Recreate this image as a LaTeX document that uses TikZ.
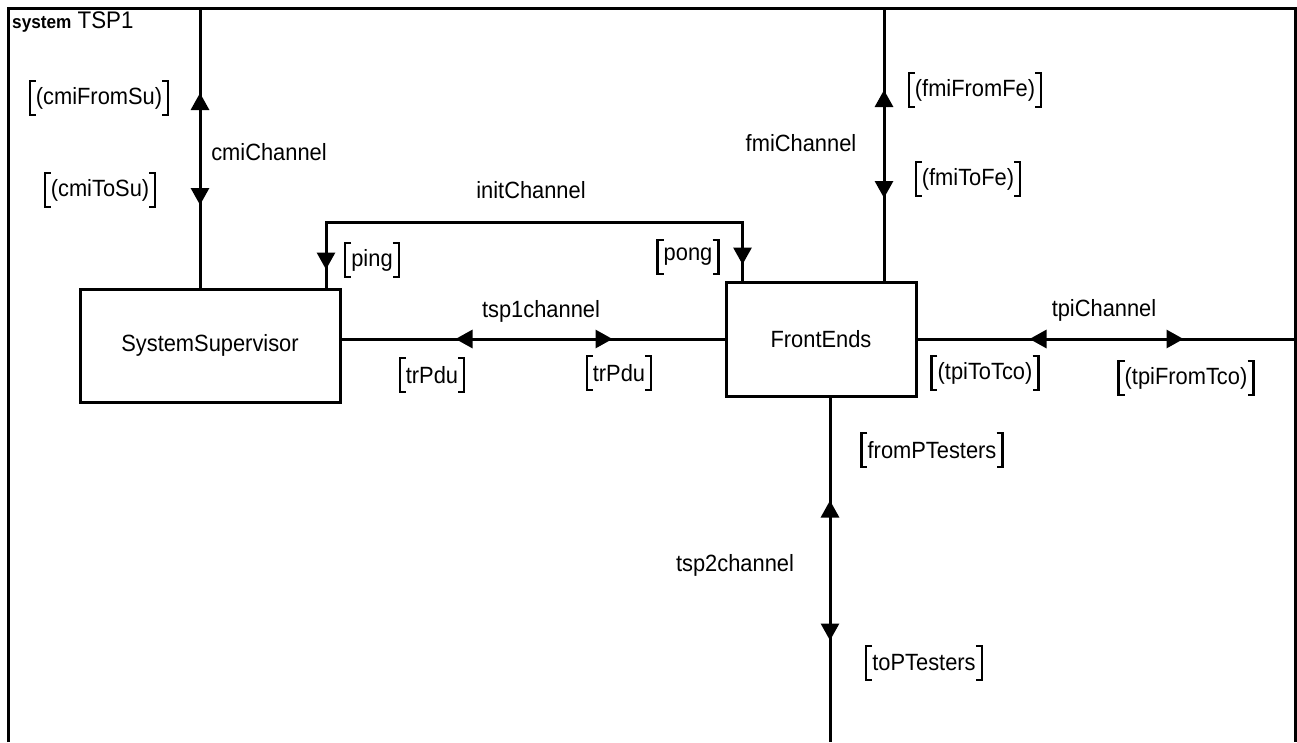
\documentclass[tikz,border=0pt]{standalone}
\usepackage{fontspec}
\setmainfont{Liberation Sans}[FakeStretch=0.93]
\usetikzlibrary{arrows.meta, decorations.markings}

\tikzset{
  blockbox/.style={draw, line width=3pt, inner sep=0pt},
  chan/.style={line width=3pt},
  brk/.style={line width=2.2pt},
  lbl/.style={inner sep=0pt},
  sig/.style={inner xsep=6pt, inner ysep=0pt, minimum height=34pt,
    append after command={\pgfextra{%
      \draw[brk] ([xshift=6pt]\tikzlastnode.north west) -| (\tikzlastnode.south west) -- ++(6,0)
                 ([xshift=-6pt]\tikzlastnode.north east) -| (\tikzlastnode.south east) -- ++(-6,0);}}},
  tipfwd/.style={postaction={decorate, decoration={markings,
    mark=at position #1 with {\arrow{Triangle[length=17pt,width=18pt]}}}}},
  tipbwd/.style={postaction={decorate, decoration={markings,
    mark=at position #1 with {\arrowreversed{Triangle[length=17pt,width=18pt]}}}}}
}

\begin{document}
\begin{tikzpicture}[x=1pt, y=-1pt, font=\fontsize{23.5}{27}\selectfont]
  \useasboundingbox (0,0) rectangle (1297,742);

  %% frame of the system
  \draw[chan] (8,742) -- (8,8) -- (1295,8) -- (1295,742);
  \node[lbl, anchor=base west, font=\fontsize{24}{26}\selectfont] (title) at (12,28)
    {{\bfseries\fontsize{18.5}{20}\selectfont system} TSP1};

  %% blocks
  \node[blockbox, minimum width=260pt, minimum height=113pt] (sup) at (210,345.5) {SystemSupervisor};
  \node[blockbox, minimum width=190pt, minimum height=114pt] (fe)  at (821,339)   {FrontEnds};

  %% channel end points on the frame
  \coordinate (cmiTop)  at (200,8);
  \coordinate (fmiTop)  at (884,8);
  \coordinate (initTop) at (326,222);
  \coordinate (tpiEnd)  at (1295,340);
  \coordinate (tsp2End) at (830,742);

  %% cmiChannel
  \draw[chan, tipbwd=85pt, tipfwd=197pt] (cmiTop) -- (cmiTop |- sup.north);
  \node[sig] (cmiFromSu) at (99,98)  {(cmiFromSu)};
  \node[sig] (cmiToSu)   at (100,190) {(cmiToSu)};
  \node[lbl] (cmiName)   at (269,152) {cmiChannel};

  %% initChannel
  \draw[chan, tipbwd=18pt, tipfwd=-16pt] (initTop |- sup.north) -- (initTop) -| ([xshift=18pt]fe.north west);
  \node[lbl] (initName) at (531,190) {initChannel};
  \node[sig] (ping) at (372,260) {ping};
  \node[sig] (pong) at (688,257) {pong};

  %% tsp1channel
  \draw[chan, tipbwd=114pt, tipfwd=271pt] (sup.east |- fe.west) -- (fe.west);
  \node[lbl] (tsp1Name) at (541,311) {tsp1channel};
  \node[sig] (trPduSu) at (432,375) {trPdu};
  \node[sig] (trPduFe) at (619,373) {trPdu};

  %% fmiChannel
  \draw[chan, tipbwd=82pt, tipfwd=190pt] (fmiTop) -- (fmiTop |- fe.north);
  \node[lbl] (fmiName)   at (801,143) {fmiChannel};
  \node[sig] (fmiFromFe) at (975,90)  {(fmiFromFe)};
  \node[sig] (fmiToFe)   at (968,179) {(fmiToFe)};

  %% tpiChannel
  \draw[chan, tipbwd=112pt, tipfwd=266pt] (fe.east) -- (fe.east -| tpiEnd);
  \node[lbl] (tpiName)    at (1104,310) {tpiChannel};
  \node[sig] (tpiToTco)   at (985,373)  {(tpiToTco)};
  \node[sig] (tpiFromTco) at (1186,378) {(tpiFromTco)};

  %% tsp2channel
  \draw[chan, tipbwd=103pt, tipfwd=243pt] (tsp2End |- fe.south) -- (tsp2End);
  \node[lbl] (tsp2Name)     at (735,565) {tsp2channel};
  \node[sig] (fromPTesters) at (932,450) {fromPTesters};
  \node[sig] (toPTesters)   at (924,663) {toPTesters};
\end{tikzpicture}
\end{document}
